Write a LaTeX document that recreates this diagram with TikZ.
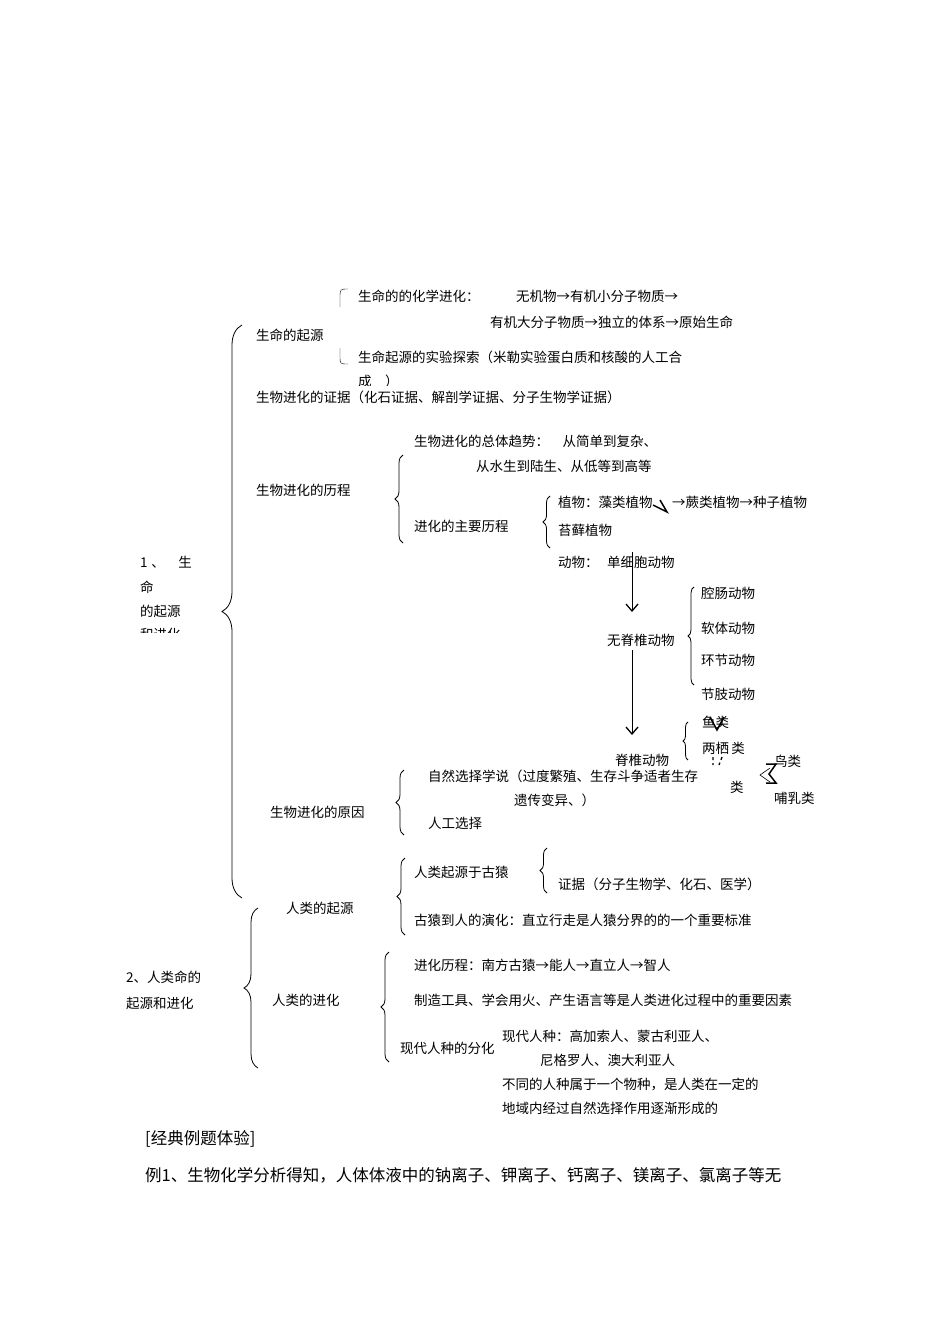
\documentclass[tikz,border=0pt]{standalone}
\usepackage{fontspec}
\setmainfont{Noto Sans CJK SC}
\usetikzlibrary{decorations.pathreplacing,arrows.meta}
\begin{document}
\begin{tikzpicture}[x=1pt,y=-1pt,
  t/.style={anchor=west,inner sep=0pt,font=\fontsize{13.5}{15}\selectfont},
  big/.style={anchor=west,inner sep=0pt,font=\fontsize{16.5}{18}\selectfont},
  br/.style={decorate,decoration={brace,amplitude=#1},thick},
  br/.default=8pt,
  dn/.style={-{Straight Barb[length=7pt,width=12pt,line width=1.3pt]},semithick}]
\useasboundingbox (0,0) rectangle (950,1344);
% section 1 top
\node[t] (a1) at (358,296) {生命的的化学进化：};
\node[t] (a2) at (516,296) {无机物→有机小分子物质→};
\node[t] (a3) at (490,322) {有机大分子物质→独立的体系→原始生命};
\node[t] (a4) at (358,357) {生命起源的实验探索（米勒实验蛋白质和核酸的人工合};
\begin{scope}\clip (350,368) rectangle (420,385);
\node[t] (a5) at (358,381) {成\quad ）};\end{scope}
\draw (348,289) .. controls (340,289) .. (340,298) -- (340,307);
\draw (348,364) .. controls (340,364) .. (340,356) -- (340,348);
\node[t] (q1) at (256,335) {生命的起源};
\node[t] (q2) at (256,397) {生物进化的证据（化石证据、解剖学证据、分子生物学证据）};
\node[t] (b1) at (414,441) {生物进化的总体趋势：\quad 从简单到复杂、};
\node[t] (b2) at (476,466) {从水生到陆生、从低等到高等};
\node[t] (q3) at (256,490) {生物进化的历程};
\draw[br=8pt] (403,543) -- (403,455);
\node[t] (b3) at (414,526) {进化的主要历程};
\draw[br=7pt] (550,548) -- (550,496);
\node[t] (p1) at (558,502) {植物：藻类植物};
\node[t] (p2) at (672,502) {→蕨类植物→种子植物};
\draw[line width=1.5pt] (653,505) -- (667,512) -- (660,500);
\node[t] (p3) at (558,530) {苔藓植物};
\node[t] (d1) at (558,562) {动物：};
\node[t] (d2) at (607,562) {单细胞动物};
\node[t] (w0) at (607,640) {无脊椎动物};
\draw[dn] (632,552) -- (632,612);
\draw[br=6pt] (694,685) -- (694,587);
\node[t] (w1) at (701,593) {腔肠动物};
\node[t] (w2) at (701,628) {软体动物};
\node[t] (w3) at (701,660) {环节动物};
\begin{scope}\clip (690,680) rectangle (780,700);
\node[t] (w4) at (701,694) {节肢动物};\end{scope}
\draw[dn] (632,650) -- (632,735);
\begin{scope}\clip (600,752) rectangle (690,768);
\node[t] (v0) at (615,760) {脊椎动物};\end{scope}
\draw[br=5pt] (688,760) -- (688,722);
\begin{scope}\clip (690,714) rectangle (740,729);
\node[t] (v1) at (702,722) {鱼类};\end{scope}
\draw[line width=1.5pt] (710,717) -- (717,730) -- (724,717);
\node[t] (v2) at (702,748) {两栖\,类};
\draw[line width=1.3pt,dashed] (713,757) -- (713,765) (722,757) -- (719,765);
\node[t] (v3) at (730,787) {类};
\draw[semithick] (770,768) -- (760,775) -- (770,782);
\draw[line width=1.5pt] (766,764) -- (776,764) -- (769,774) -- (776,783) -- (766,783);
\node[t] (v4) at (774,761) {鸟类};
\node[t] (v5) at (774,798) {哺乳类};
\node[t] (c1) at (428,776) {自然选择学说（过度繁殖、生存斗争适者生存};
\node[t] (c2) at (514,800) {遗传变异、）};
\node[t] (c3) at (428,823) {人工选择};
\node[t] (q4) at (270,812) {生物进化的原因};
\draw[br=8pt] (404,835) -- (404,770);
% big 1
\node[t] (s1a) at (140,562) {1\;、\quad 生};
\node[t] (s1b) at (140,587) {命};
\node[t] (s1c) at (140,611) {的起源};
\begin{scope}\clip (130,626) rectangle (200,632);
\node[t] (s1d) at (140,634) {和进化};\end{scope}
\draw[br=20pt] (242,898) -- (242,325);
% section 2
\node[t] (h1) at (414,872) {人类起源于古猿};
\draw[br=7pt] (547,893) -- (547,848);
\node[t] (h2) at (558,884) {证据（分子生物学、化石、医学）};
\node[t] (h3) at (414,920) {古猿到人的演化：直立行走是人猿分界的的一个重要标准};
\node[t] (r1) at (286,908) {人类的起源};
\draw[br=8pt] (405,935) -- (405,858);
\node[t] (s2a) at (126,977) {2、人类命的};
\node[t] (s2b) at (126,1003) {起源和进化};
\draw[br=14pt] (258,1068) -- (258,908);
\node[t] (r2) at (272,1000) {人类的进化};
\draw[br=8pt] (389,1062) -- (389,952);
\node[t] (e1) at (414,965) {进化历程：南方古猿→能人→直立人→智人};
\node[t] (e2) at (414,1000) {制造工具、学会用火、产生语言等是人类进化过程中的重要因素};
\begin{scope}\clip (390,1036) rectangle (500,1060);
\node[t] (e3) at (400,1048) {现代人种的分化};\end{scope}
\node[t] (e4) at (502,1036) {现代人种：高加索人、蒙古利亚人、};
\node[t] (e5) at (540,1060) {尼格罗人、澳大利亚人};
\node[t] (e6) at (502,1084) {不同的人种属于一个物种，是人类在一定的};
\node[t] (e7) at (502,1108) {地域内经过自然选择作用逐渐形成的};
\node[big] (f1) at (145,1139) {[经典例题体验]};
\node[big] (f2) at (145,1175) {例1、生物化学分析得知，人体体液中的钠离子、钾离子、钙离子、镁离子、氯离子等无};
\end{tikzpicture}
\end{document}
